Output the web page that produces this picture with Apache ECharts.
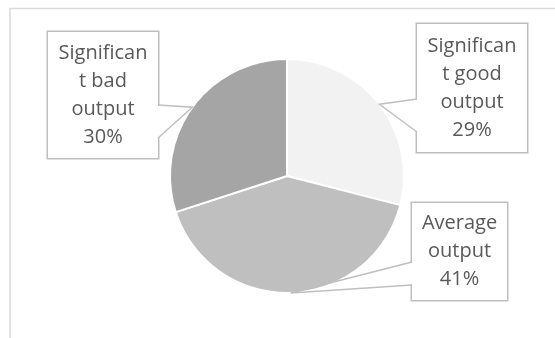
<!DOCTYPE html>
<html>
<head>
<meta charset="utf-8">
<script src="https://cdn.jsdelivr.net/npm/echarts@6/dist/echarts.min.js"></script>
<style>
html, body { margin: 0; padding: 0; background: #fff; }
#chart { width: 555px; height: 338px; }
</style>
</head>
<body>
<div id="chart"></div>
<script>
var categories = ['Significant good output', 'Average output', 'Significant bad output'];
var values = [29, 41, 30];
// label text as wrapped in the original boxes
var labelLines = [['Significan', 't good', 'output'], ['Average', 'output'], ['Significan', 't bad', 'output']];
var sliceColors = ['#f2f2f2', '#bfbfbf', '#a5a5a5'];

// callout boxes (left, top, width, height) and where the pointer meets the box edge
var boxes = [
	{x: 417, y: 24, w: 110, h: 128, side: 'left', y1: 99, y2: 132},
	{x: 412, y: 203, w: 95, h: 97, side: 'left', y1: 262, y2: 285},
	{x: 48, y: 32, w: 110, h: 126, side: 'right', y1: 105, y2: 138}
];
var LINE_H = 28;
var BOX_COLOR = '#bfbfbf';

var chart = echarts.init(document.getElementById('chart'), null, {renderer: 'canvas'});

var pieData = categories.map(function (name, i) {
	var b = boxes[i];
	var n = labelLines[i].length + 1;
	var padV = (b.h - n * LINE_H) / 2;
	return {
		name: name,
		value: values[i],
		itemStyle: {color: sliceColors[i]},
		// text sits a little low in the boxes
		label: {width: b.w, padding: [padV + 2.5, 0, padV - 2.5, 0]}
	};
});

chart.setOption({
	animation: false,
	series: [{
		type: 'pie',
		center: [287, 176],
		radius: 117,
		startAngle: 90,
		clockwise: true,
		itemStyle: {borderColor: '#fff', borderWidth: 2},
		emphasis: {disabled: true},
		label: {
			show: true,
			position: 'outside',
			color: '#595959',
			fontFamily: 'Open Sans',
			fontSize: 20,
			lineHeight: LINE_H,
			align: 'center',
			backgroundColor: '#fff',
			borderColor: BOX_COLOR,
			borderWidth: 1.5,
			formatter: function (p) {
				return labelLines[p.dataIndex].join('\n') + '\n' + Math.round(p.percent) + '%';
			}
		},
		labelLine: {show: false},
		labelLayout: function (params) {
			var b = boxes[params.dataIndex];
			return {x: b.x + b.w / 2, y: b.y + b.h / 2, align: 'center', verticalAlign: 'middle'};
		},
		data: pieData
	}]
});

// callout pointers: tip sits on the slice edge at its mid angle
var seriesData = chart.getModel().getSeriesByIndex(0).getData();
var graphics = [{
	type: 'rect',
	id: 'frame',
	shape: {x: 10, y: 8.5, width: 700, height: 500},
	style: {fill: 'none', stroke: '#d9d9d9', lineWidth: 1.5},
	z: 0
}];
boxes.forEach(function (b, i) {
	var lay = seriesData.getItemLayout(i);
	var mid = (lay.startAngle + lay.endAngle) / 2;
	var tip = [lay.cx + lay.r * Math.cos(mid), lay.cy + lay.r * Math.sin(mid)];
	var ex = b.side === 'left' ? b.x : b.x + b.w;
	graphics.push({
		type: 'line',
		id: 'gap' + i,
		shape: {x1: ex, y1: b.y1 + 1, x2: ex, y2: b.y2 - 1},
		style: {stroke: '#fff', lineWidth: 4},
		z: 99
	});
	graphics.push({
		type: 'polyline',
		id: 'ptr' + i,
		shape: {points: [[ex, b.y1], tip, [ex, b.y2]]},
		style: {fill: 'none', stroke: BOX_COLOR, lineWidth: 1.5},
		z: 100
	});
});
chart.setOption({graphic: graphics});
</script>
</body>
</html>
